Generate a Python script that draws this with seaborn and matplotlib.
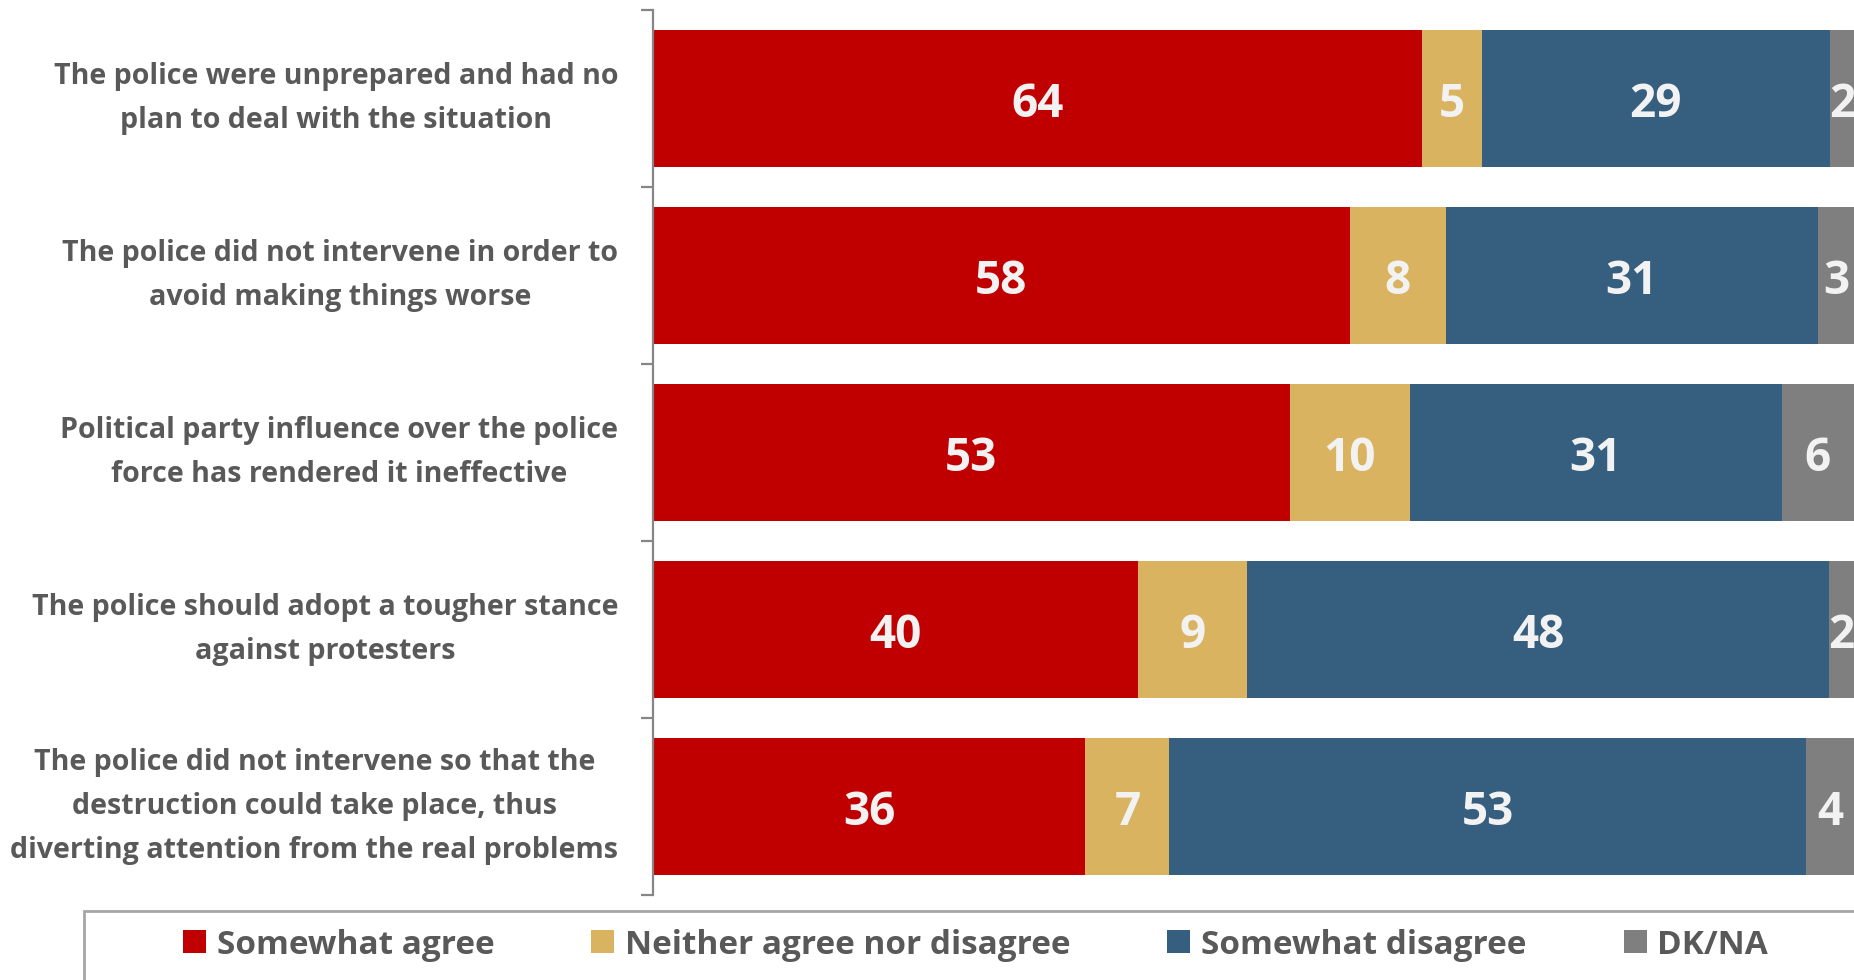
import numpy as np
import pandas as pd
import matplotlib
matplotlib.use("Agg")
import matplotlib.pyplot as plt
from matplotlib.patches import Patch, Rectangle
from matplotlib.ticker import FixedLocator
import seaborn as sns

# survey statements (top to bottom) and their answer shares, in %
statements = [
    "The police were unprepared and had no\nplan to deal with the situation",
    "The police did not intervene in order to\navoid making things worse",
    "Political party influence over the police\nforce has rendered it ineffective",
    "The police should adopt a tougher stance\nagainst protesters",
    "The police did not intervene so that the\ndestruction could take place, thus\ndiverting attention from the real problems",
]
agree = [64, 58, 53, 40.4, 36]
neither = [5, 8, 10, 9.1, 7]
disagree = [29, 31, 31, 48.4, 53]
dkna = [2, 3, 6, 2.1, 4]

series = ["Somewhat agree", "Neither agree nor disagree", "Somewhat disagree", "DK/NA"]
colors = ["#C00000", "#D9B360", "#365E7F", "#7F7F7F"]
text_grey = "#595959"
axis_grey = "#868686"

df = pd.DataFrame({
    "statement": statements,
    series[0]: agree,
    series[1]: neither,
    series[2]: disagree,
    series[3]: dkna,
})
cum = df[series].cumsum(axis=1)

sns.set_theme(style="white")
plt.rcParams["font.family"] = ["Open Sans", "DejaVu Sans"]

W, H = 1854, 980
fig = plt.figure(figsize=(W / 100, H / 100), dpi=100)
ax = fig.add_axes([653 / W, 1 - 895 / H, 1 - 653 / W, 885 / H])

# stacked bars: draw cumulative totals from the outermost layer inwards
for name, col in reversed(list(zip(series, colors))):
    sns.barplot(x=cum[name], y=df["statement"], order=statements, color=col,
                orient="h", width=0.77, saturation=1, linewidth=0,
                edgecolor="none", ax=ax)

# value labels in the middle of each segment
for i in range(len(df)):
    for name in series:
        v = df.loc[i, name]
        mid = cum.loc[i, name] - v / 2
        ax.text(mid, i, f"{round(v)}", ha="center", va="center_baseline",
                fontsize=33, fontweight="bold", color="#F2F2F2")

ax.set_xlim(0, 100)
ax.set_ylim(len(df) - 0.5, -0.5)
ax.set_xticks([])
ax.set_xlabel("")
ax.set_ylabel("")

for s in ["top", "right", "bottom"]:
    ax.spines[s].set_visible(False)
ax.spines["left"].set_color(axis_grey)
ax.spines["left"].set_linewidth(1.6)

ax.yaxis.set_minor_locator(FixedLocator(np.arange(-0.5, len(df), 1.0)))
ax.tick_params(axis="y", which="major", left=False, length=0, pad=25)
ax.tick_params(axis="y", which="minor", left=True, length=9, width=1.6, color=axis_grey)
for lbl in ax.get_yticklabels():
    lbl.set_fontsize(20.6)
    lbl.set_fontweight("bold")
    lbl.set_color(text_grey)
    lbl.set_multialignment("center")
    lbl.set_linespacing(1.66)
    lbl.set_verticalalignment("center")

# legend frame running off the bottom/right edges
fig.add_artist(Rectangle((84 / W, -0.05), 1.0, 1 - 911 / H + 0.05,
                         transform=fig.transFigure, fill=False,
                         edgecolor="#A6A6A6", linewidth=2))
handles = [Patch(facecolor=c, edgecolor="none") for c in colors]
fig.legend(handles, series, loc="center left", bbox_to_anchor=(183 / W, 1 - 945 / H),
           ncol=4, frameon=False, prop={"size": 24, "weight": "bold"},
           labelcolor=text_grey, handlelength=0.69, handleheight=0.69,
           handletextpad=0.33, columnspacing=2.9, borderpad=0, borderaxespad=0)

fig.savefig("out.png", dpi=100)
